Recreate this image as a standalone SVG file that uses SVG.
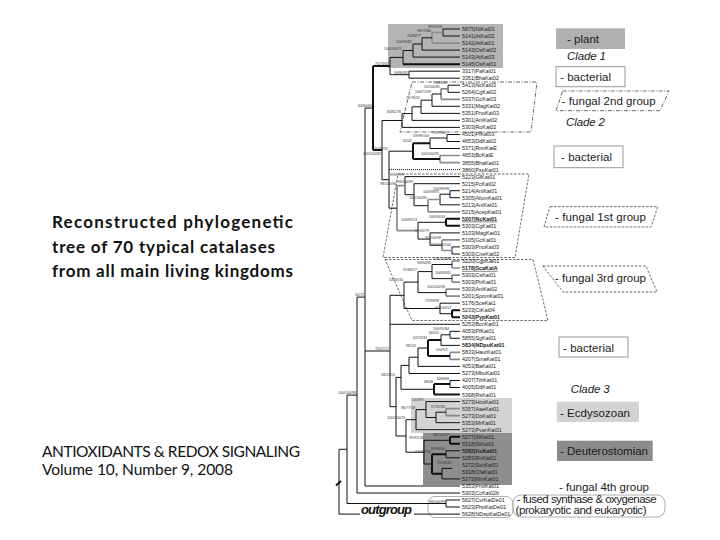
<svg xmlns="http://www.w3.org/2000/svg" width="720" height="540" viewBox="0 0 720 540">
<style>
.br{fill:none;stroke:#111;stroke-width:1}
.gr{fill:none;stroke:#8a8a8a;stroke-width:1.7}
.bk{fill:none;stroke:#111;stroke-width:2}
.dt{fill:none;stroke:#111;stroke-width:1;stroke-dasharray:1 1}
.lf{font-family:"Liberation Sans",Arial,sans-serif;font-size:5.4px;fill:#222}
.lb{font-weight:bold}
.bs{font-family:"Liberation Sans",Arial,sans-serif;font-size:3.6px;fill:#333;text-anchor:end}
.lg{font-family:"Liberation Sans",Arial,sans-serif;font-size:11.5px;fill:#1a1a1a}
.it{font-style:italic}
.dash{fill:none;stroke:#444;stroke-width:0.8;stroke-dasharray:2.5 1.5}
.dashdot{fill:none;stroke:#444;stroke-width:0.8;stroke-dasharray:4 1.5 1 1.5}
.box{fill:#fff;stroke:#999;stroke-width:1}
.cap{font-family:Lato,"Open Sans",sans-serif;fill:#111}
</style>
<rect width="720" height="540" fill="#fff"/>

<!-- left captions -->
<g id="title" class="cap" font-weight="bold" font-size="17">
<text x="52" y="228" textLength="241">Reconstructed phylogenetic</text>
<text x="52" y="252.5" textLength="223">tree of 70 typical catalases</text>
<text x="52" y="277" textLength="241">from all main living kingdoms</text>
</g>
<g id="source" class="cap" font-size="15.5">
<text x="42" y="457" textLength="258">ANTIOXIDANTS &amp; REDOX SIGNALING</text>
<text x="42" y="475" textLength="191">Volume 10, Number 9, 2008</text>
</g>

<!-- group shading in tree -->
<g id="shading">
<rect x="388" y="24" width="115" height="44" fill="#b4b4b4"/>
<rect x="411" y="398" width="101" height="35" fill="#d3d3d3"/>
<rect x="423" y="433" width="89" height="52" fill="#8e8e8e"/>
<polygon class="dashdot" points="412,82 537,82 531,132 400,132"/>
<polygon class="dash" points="398,174 529,174 515,257.5 383,257.5"/>
<polygon class="dash" points="385,259.5 533,259.5 548,320.5 412,320.5"/>
<rect x="428" y="496.5" width="85" height="21" rx="7" fill="none" stroke="#999" stroke-width="0.8"/>
</g>

<!-- connectors -->
<g id="connectors">
<path class="br" d="M443,29V36M443,29H460M443,36H460"/>
<path class="gr" d="M432,32.5V43.1M432,32.5H443M432,43.1H460"/>
<path class="br" d="M422,37.8V50.1M422,37.8H432M422,50.1H460"/>
<path class="br" d="M413,44V57.1M413,44H422M413,57.1H460"/>
<path class="br" d="M403,50.5V64.2M403,50.5H413"/>
<path class="bk" d="M403,64.2H460"/>
<path class="br" d="M409,71.2V78.2M409,71.2H460M409,78.2H460"/>
<path class="br" d="M390,57.4V74.7M390,57.4H403M390,74.7H409"/>
<path class="br" d="M448,85.2V92.3M448,85.2H460M448,92.3H460"/>
<path class="gr" d="M441,88.8V99.3M441,88.8H448M441,99.3H460"/>
<path class="br" d="M432,94V106.3M432,94H441M432,106.3H460"/>
<path class="br" d="M421,100.2V113.4M421,100.2H432M421,113.4H460"/>
<path class="br" d="M412,106.8V120.4M412,106.8H421M412,120.4H460"/>
<path class="br" d="M402,113.6V127.4M402,113.6H412M402,127.4H460"/>
<path class="br" d="M447,134.5V141.5M447,134.5H460M447,141.5H460"/>
<path class="br" d="M430,138V148.5M430,138H447M430,148.5H460"/>
<path class="gr" d="M440,155.5V162.6M440,155.5H460M440,162.6H460"/>
<path class="bk" d="M413,143.3V159.1M413,143.3H430M413,159.1H440"/>
<path class="br" d="M450,190.7V197.7M450,190.7H460M450,197.7H460"/>
<path class="br" d="M440,194.2V204.8M440,194.2H450M440,204.8H460"/>
<path class="gr" d="M428,199.5V211.8M428,199.5H440M428,211.8H460"/>
<path class="br" d="M414,183.7V205.7M414,183.7H460M414,205.7H428"/>
<path class="br" d="M405,176.6V194.7M405,176.6H460M405,194.7H414"/>
<path class="bk" d="M446,218.8V225.8M446,218.8H460M446,225.8H460"/>
<path class="br" d="M452,246.9V254M452,246.9H460M452,254H460"/>
<path class="gr" d="M442,239.9V250.5M442,239.9H460M442,250.5H452"/>
<path class="br" d="M430,232.9V245.2M430,232.9H460M430,245.2H442"/>
<path class="br" d="M418,222.3V239.1M418,222.3H446M418,239.1H430"/>
<path class="gr" d="M397,185.7V230.7M397,185.7H405M397,230.7H418"/>
<path class="br" d="M389,151.2V208.2M389,151.2H413M389,208.2H397"/>
<path class="dt" d="M389,169.6H460"/>
<path class="br" d="M382,120.5V179.7M382,120.5H402M382,179.7H389"/>
<path class="bk" d="M373,66V150.1M373,66H390M373,150.1H382"/>
<path class="gr" d="M452,261V268M452,261H460M452,268H460"/>
<path class="gr" d="M452,275.1V282.1M452,275.1H460M452,282.1H460"/>
<path class="br" d="M432,264.5V278.6M432,264.5H452M432,278.6H452"/>
<path class="gr" d="M446,289.1V296.1M446,289.1H460M446,296.1H460"/>
<path class="br" d="M418,271.6V292.6M418,271.6H432M418,292.6H446"/>
<path class="bk" d="M452,310.2V317.2M452,310.2H460M452,317.2H460"/>
<path class="br" d="M440,303.2V313.7M440,303.2H460M440,313.7H452"/>
<path class="br" d="M404,282.1V308.5M404,282.1H418M404,308.5H440"/>
<path class="br" d="M450,331.3V338.3M450,331.3H460M450,338.3H460"/>
<path class="br" d="M441,334.8V345.4M441,334.8H450M441,345.4H460"/>
<path class="gr" d="M450,352.4V359.4M450,352.4H460M450,359.4H460"/>
<path class="bk" d="M428,340.1V355.9M428,340.1H441M428,355.9H450"/>
<path class="br" d="M418,348V366.4M418,348H428M418,366.4H460"/>
<path class="br" d="M409,357.2V373.5M409,357.2H418M409,373.5H460"/>
<path class="br" d="M450,380.5V387.5M450,380.5H460M450,387.5H460"/>
<path class="bk" d="M434,384V394.6M434,384H450M434,394.6H460"/>
<path class="br" d="M401,365.4V389.3M401,365.4H409M401,389.3H434"/>
<path class="gr" d="M446,408.6V415.7M446,408.6H460M446,415.7H460"/>
<path class="br" d="M436,412.2V422.7M436,412.2H446M436,422.7H460"/>
<path class="br" d="M426,401.6V417.5M426,401.6H460M426,417.5H436"/>
<path class="br" d="M416,409.6V429.7M416,409.6H426M416,429.7H460"/>
<path class="bk" d="M450,436.7V443.8M450,436.7H460M450,443.8H460"/>
<path class="br" d="M446,450.8V457.8M446,450.8H460M446,457.8H460"/>
<path class="gr" d="M452,464.9V471.9M452,464.9H460M452,471.9H460"/>
<path class="br" d="M442,468.4V478.9M442,468.4H452M442,478.9H460"/>
<path class="bk" d="M432,454.3V473.7M432,454.3H446M432,473.7H442"/>
<path class="br" d="M424,440.3V464M424,440.3H450M424,464H432"/>
<path class="br" d="M406,419.7V452.2M406,419.7H416M406,452.2H424"/>
<path class="br" d="M396,377.4V436M396,377.4H401M396,436H406"/>
<path class="br" d="M390,295.3V406.7M390,295.3H404M390,324.3H460M390,406.7H396"/>
<path class="br" d="M365,108.1V486M365,108.1H373M365,351H390M365,486H460"/>
<path class="br" d="M357,297.1V493M357,297.1H365M357,493H460"/>
<path class="br" d="M446,500V507M446,500H460M446,507H460"/>
<path class="br" d="M347,395.1V503.5M347,395.1H357M347,503.5H446"/>
<path class="br" d="M339,449.3V514.1M339,449.3H347M339,514.1H360M414,514.1H460"/>
<path class="bk" d="M336,485.5L341,481"/>
</g>

<!-- internal node support values -->
<g id="support">
<g id="nP1"><text class="bs" x="442" y="28">99/99/18</text></g>
<g id="nP2"><text class="bs" x="431" y="31.5">98/72/80</text></g>
<g id="nP3"><text class="bs" x="421" y="36.8">76/86/77</text></g>
<g id="nP4"><text class="bs" x="412" y="43">100/99/81</text></g>
<g id="nP5"><text class="bs" x="402" y="49.5">100/100/72</text></g>
<g id="nC1"><text class="bs" x="389" y="65">75/74/67</text></g>
<g id="nB1"><text class="bs" x="408" y="73.5">94/86/82</text></g>
<g id="nF2a"><text class="bs" x="447" y="84.2">76/89/85</text></g>
<g id="nF2b"><text class="bs" x="440" y="87.8">50/100/85</text></g>
<g id="nF2c"><text class="bs" x="431" y="93">100/72/39</text></g>
<g id="nF2d"><text class="bs" x="420" y="99.2">71/76/55</text></g>
<g id="nF2f"><text class="bs" x="401" y="112.6">84/82/76</text></g>
<g id="nBb1"><text class="bs" x="446" y="133.5">75/97/80</text></g>
<g id="nBb2"><text class="bs" x="429" y="137">59/98/100</text></g>
<g id="nBb3"><text class="bs" x="439" y="154.5">100/100/95</text></g>
<g id="nBb4"><text class="bs" x="412" y="142.3">65/42</text></g>
<g id="nXb"><text class="bs" x="388" y="150.2">70/70/55</text></g>
<g id="nX383"><text class="bs" x="381" y="154.5">100/100/82</text></g>
<g id="nN1"><text class="bs" x="372" y="107.1">64/60/66</text></g>
<g id="nF1a"><text class="bs" x="449" y="189.7">100/99/98</text></g>
<g id="nF1b"><text class="bs" x="439" y="193.2">100/98/93</text></g>
<g id="nF1c"><text class="bs" x="427" y="198.5">100/100/85</text></g>
<g id="nF1d"><text class="bs" x="413" y="182.7">98/100/99</text></g>
<g id="nF1e"><text class="bs" x="404" y="175.6">99/87/99</text></g>
<g id="nF1f"><text class="bs" x="445" y="217.8">100/94/93</text></g>
<g id="nF1g"><text class="bs" x="451" y="245.9">100/100/100</text></g>
<g id="nF1h"><text class="bs" x="441" y="238.9">95/100/98</text></g>
<g id="nF1i"><text class="bs" x="429" y="231.9">98/45/79</text></g>
<g id="nF1j"><text class="bs" x="417" y="221.3">100/95/53</text></g>
<g id="nF1r"><text class="bs" x="396" y="184.7">98/100/98</text></g>
<g id="nF3a"><text class="bs" x="451" y="260">100/100/84</text></g>
<g id="nF3b"><text class="bs" x="451" y="274.1">100/83/81</text></g>
<g id="nF3c"><text class="bs" x="431" y="263.5">93/90/85</text></g>
<g id="nF3d"><text class="bs" x="445" y="288.1">100/100/98</text></g>
<g id="nF3e"><text class="bs" x="417" y="270.6">91/86/57</text></g>
<g id="nF3f"><text class="bs" x="451" y="309.2">97/100/57</text></g>
<g id="nF3g"><text class="bs" x="439" y="302.2">75/99/98</text></g>
<g id="nF3r"><text class="bs" x="403" y="281.1">53/56/34</text></g>
<g id="nG1"><text class="bs" x="449" y="330.3">100/95/84</text></g>
<g id="nG2"><text class="bs" x="440" y="333.8">68/20/-</text></g>
<g id="nG3"><text class="bs" x="449" y="351.4">100/97/-</text></g>
<g id="nG4"><text class="bs" x="427" y="339.1">02/23/34</text></g>
<g id="nG5"><text class="bs" x="417" y="347">98/13/-</text></g>
<g id="nG7"><text class="bs" x="449" y="379.5">68/8/66</text></g>
<g id="nG8"><text class="bs" x="433" y="383">68/48</text></g>
<g id="nE1"><text class="bs" x="445" y="407.6">97/35/86</text></g>
<g id="nE3"><text class="bs" x="425" y="400.6">100/99/-</text></g>
<g id="nE4"><text class="bs" x="415" y="408.6">86/77/18</text></g>
<g id="nD1"><text class="bs" x="449" y="435.7">98/100/97</text></g>
<g id="nD3"><text class="bs" x="445" y="449.8">99/93/54</text></g>
<g id="nD2"><text class="bs" x="451" y="463.9">71/18/48</text></g>
<g id="nD4"><text class="bs" x="431" y="453.3">100/98/54</text></g>
<g id="nD5"><text class="bs" x="423" y="439.3">99/92/18</text></g>
<g id="nAn"><text class="bs" x="405" y="418.7">100/100/70</text></g>
<g id="nY"><text class="bs" x="395" y="376.4">58/13/15</text></g>
<g id="nX390"><text class="bs" x="389" y="350">70/57/17</text></g>
<g id="nX365"><text class="bs" x="364" y="296.1">50/72</text></g>
<g id="nX357"><text class="bs" x="356" y="394.1">100/100/98</text></g>
<g id="nO"><text class="bs" x="445" y="502.5">98/100/99</text></g>
</g>

<!-- leaves -->
<g id="leaves" class="lf">
<g id="L0"><text x="462" y="30.9">5875|NtKat01</text></g>
<g id="L1"><text x="462" y="37.9">5141|AtKat02</text></g>
<g id="L2"><text x="462" y="45">5142|AtKat01</text></g>
<g id="L3"><text x="462" y="52">5143|OsKat02</text></g>
<g id="L4"><text x="462" y="59">5143|AtKat03</text></g>
<g id="L5"><text x="462" y="66.1">5145|OsKat01</text></g>
<g id="L6"><text x="462" y="73.1">3317|PaKat01</text></g>
<g id="L7"><text x="462" y="80.1">3351|BhaKat02</text></g>
<g id="L8"><text x="462" y="87.1">5413|NcKat03</text></g>
<g id="L9"><text x="462" y="94.2">5264|CgKat02</text></g>
<g id="L10"><text x="462" y="101.2">5337|GcKat03</text></g>
<g id="L11"><text x="462" y="108.2">5331|MagKat02</text></g>
<g id="L12"><text x="462" y="115.3">5351|PnoKat03</text></g>
<g id="L13"><text x="462" y="122.3">5301|AniKat02</text></g>
<g id="L14"><text x="462" y="129.3">5303|RoKat02</text></g>
<g id="L15"><text x="462" y="136.4">4501|PfKat03</text></g>
<g id="L16"><text x="462" y="143.4">4653|DdKat02</text></g>
<g id="L17"><text x="462" y="150.4">5371|RnnKatE</text></g>
<g id="L18"><text x="462" y="157.4">4653|BcKatE</text></g>
<g id="L19"><text x="462" y="164.5">3855|BhaKat01</text></g>
<g id="L20"><text x="462" y="171.5">3860|PspKat01</text></g>
<g id="L21"><text x="462" y="178.5">5223|GfKat01</text></g>
<g id="L22"><text x="462" y="185.6">5215|PcKat02</text></g>
<g id="L23"><text x="462" y="192.6">5214|AniKat01</text></g>
<g id="L24"><text x="462" y="199.6">5305|AfumKat01</text></g>
<g id="L25"><text x="462" y="206.7">5213|AniKat01</text></g>
<g id="L26"><text x="462" y="213.7">5215|AcepKat01</text></g>
<g id="L27"><text x="462" y="220.7" class="lb" text-decoration="underline">5207|NcKat01</text></g>
<g id="L28"><text x="462" y="227.7">5303|CgKat01</text></g>
<g id="L29"><text x="462" y="234.8">5103|MagKat01</text></g>
<g id="L30"><text x="462" y="241.8">5105|GcKat01</text></g>
<g id="L31"><text x="462" y="248.8">5303|PnoKat03</text></g>
<g id="L32"><text x="462" y="255.9">5303|CneKat02</text></g>
<g id="L33"><text x="462" y="262.9">5220|CgpKat01</text></g>
<g id="L34"><text x="462" y="269.9" class="lb" text-decoration="underline">5178|ScaKatA</text></g>
<g id="L35"><text x="462" y="277">5303|CsKat01</text></g>
<g id="L36"><text x="462" y="284">5303|PtrKat01</text></g>
<g id="L37"><text x="462" y="291">5303|AniKat02</text></g>
<g id="L38"><text x="462" y="298">5201|SpomKat01</text></g>
<g id="L39"><text x="462" y="305.1">5176|SceKat1</text></g>
<g id="L40"><text x="462" y="312.1">5233|CtKat04</text></g>
<g id="L41"><text x="462" y="319.1" class="lb">5243|PypKat01</text></g>
<g id="L42"><text x="462" y="326.2">5253|BcnKat01</text></g>
<g id="L43"><text x="462" y="333.2">4053|PfKat01</text></g>
<g id="L44"><text x="462" y="340.2">5855|SgKat01</text></g>
<g id="L45"><text x="462" y="347.3" class="lb">5834|NDpuKat01</text></g>
<g id="L46"><text x="462" y="354.3">5833|HaurKat01</text></g>
<g id="L47"><text x="462" y="361.3">4207|SmaKat01</text></g>
<g id="L48"><text x="462" y="368.3">4053|BaKat01</text></g>
<g id="L49"><text x="462" y="375.4">5273|MbuKat01</text></g>
<g id="L50"><text x="462" y="382.4">4207|TthKat01</text></g>
<g id="L51"><text x="462" y="389.4">4005|DdKat01</text></g>
<g id="L52"><text x="462" y="396.5">5368|RsKat01</text></g>
<g id="L53"><text x="462" y="403.5">5273|HcoKat01</text></g>
<g id="L54"><text x="462" y="410.5">5357|AaeKat01</text></g>
<g id="L55"><text x="462" y="417.6">5273|DoKat01</text></g>
<g id="L56"><text x="462" y="424.6">5353|MrKat01</text></g>
<g id="L57"><text x="462" y="431.6">5273|PvanKat01</text></g>
<g id="L58"><text x="462" y="438.6">5277|XlKat01</text></g>
<g id="L59"><text x="462" y="445.7">5518|SlKat01</text></g>
<g id="L60"><text x="462" y="452.7" class="lb">5282|HsKat01</text></g>
<g id="L61"><text x="462" y="459.7">5283|RnKat01</text></g>
<g id="L62"><text x="462" y="466.8">5272|SscKat01</text></g>
<g id="L63"><text x="462" y="473.8">5318|CfaKat01</text></g>
<g id="L64"><text x="462" y="480.8">5273|MmKat01</text></g>
<g id="L65"><text x="462" y="487.9">5353|PnoKat01</text></g>
<g id="L66"><text x="462" y="494.9">5303|CcKat02b</text></g>
<g id="L67"><text x="462" y="501.9">5627|CvrKatDe01</text></g>
<g id="L68"><text x="462" y="508.9">5623|PhoKatDe01</text></g>
<g id="L69"><text x="462" y="516">5628|NDepKatDe01</text></g>
</g>

<g id="outgroup-label"><text x="361" y="514" font-family="'Liberation Sans',Arial,sans-serif" font-size="13" font-weight="bold" font-style="italic" fill="#111" textLength="51">outgroup</text></g>

<!-- legend -->
<g id="leg-plant"><rect x="556" y="28.3" width="69" height="20.7" fill="#b0b0b0"/><text class="lg" x="567" y="42.5" textLength="32">- plant</text></g>
<g id="leg-clade1"><text class="lg it" x="567" y="60" textLength="39">Clade 1</text></g>
<g id="leg-bac1"><rect class="box" x="556" y="66.7" width="69" height="20"/><text class="lg" x="560" y="81" textLength="51">- bacterial</text></g>
<g id="leg-fung2"><polygon class="dashdot" points="562.7,91 669,91 660,110.7 556,110.7"/><text class="lg" x="561.7" y="104.5" textLength="94">- fungal 2nd group</text></g>
<g id="leg-clade2"><text class="lg it" x="566" y="126" textLength="39">Clade 2</text></g>
<g id="leg-bac2"><rect class="box" x="554" y="146" width="69" height="21.7"/><text class="lg" x="561" y="160.5" textLength="51">- bacterial</text></g>
<g id="leg-fung1"><polygon class="dash" points="550,206.7 657.7,206.7 651,227 544,227"/><text class="lg" x="555" y="220.5" textLength="91">- fungal 1st group</text></g>
<g id="leg-fung3"><polygon class="dash" points="543,266 646,266 657,292 563,292"/><text class="lg" x="555" y="282" textLength="91">- fungal 3rd group</text></g>
<g id="leg-bac3"><rect class="box" x="559" y="337" width="69" height="20"/><text class="lg" x="563" y="351.5" textLength="51">- bacterial</text></g>
<g id="leg-clade3"><text class="lg it" x="570.7" y="393" textLength="39">Clade 3</text></g>
<g id="leg-ecdy"><rect x="556.7" y="401.7" width="82.3" height="20.3" fill="#d3d3d3"/><text class="lg" x="560" y="416.5" textLength="70">- Ecdysozoan</text></g>
<g id="leg-deut"><rect x="557" y="440.7" width="95.7" height="20.3" fill="#8c8c8c"/><text class="lg" x="560" y="455.3" textLength="88">- Deuterostomian</text></g>
<g id="leg-fung4"><text class="lg" x="559" y="490.7" textLength="90">- fungal 4th group</text></g>
<g id="leg-fused"><rect x="513" y="495" width="152" height="22" rx="8" fill="none" stroke="#999" stroke-width="0.8"/><text class="lg" x="516.7" y="503.3" font-size="10.3" textLength="140">- fused synthase &amp; oxygenase</text><text class="lg" x="515.5" y="514" font-size="10.3" textLength="131">(prokaryotic and eukaryotic)</text></g>
</svg>
